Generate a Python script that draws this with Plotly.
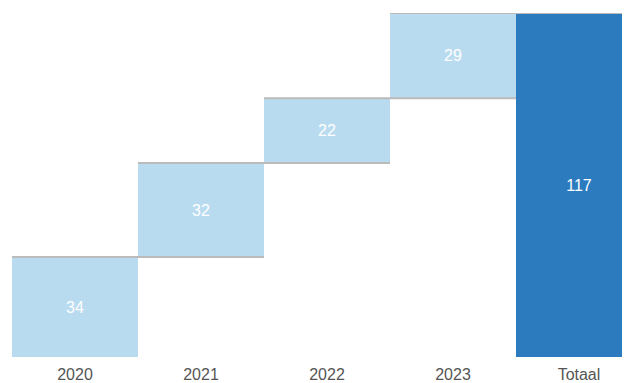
import plotly.graph_objects as go

categories = ["2020", "2021", "2022", "2023", "Totaal"]
values = [34, 32, 22, 29, 117]
measures = ["relative", "relative", "relative", "relative", "total"]
labels = ["34", "32", "22", "29", "117"]

FONT = "Liberation Sans, Arial, sans-serif"

fig = go.Figure(go.Waterfall(
    x=categories,
    y=values,
    measure=measures,
    text=labels,
    textposition="inside",
    insidetextanchor="middle",
    textfont=dict(color="white", size=16, family=FONT),
    increasing=dict(marker=dict(color="#b9dbf0")),
    totals=dict(marker=dict(color="#2c7bbf")),
    connector=dict(mode="spanning", line=dict(color="#bbbbbb", width=2)),
    hoverinfo="skip",
))

fig.update_layout(
    width=622, height=375,
    margin=dict(l=4, r=0, t=5, b=26, autoexpand=False),
    paper_bgcolor="white", plot_bgcolor="white",
    waterfallgap=0,
    showlegend=False,
    xaxis=dict(range=[-0.5, 4.405], showgrid=False, zeroline=False, showline=False,
               ticks="", ticklabelstandoff=6,
               tickfont=dict(color="#555555", size=16, family=FONT)),
    yaxis=dict(range=[0, 117], visible=False, showgrid=False, zeroline=False),
)

fig.write_html("out.html")
